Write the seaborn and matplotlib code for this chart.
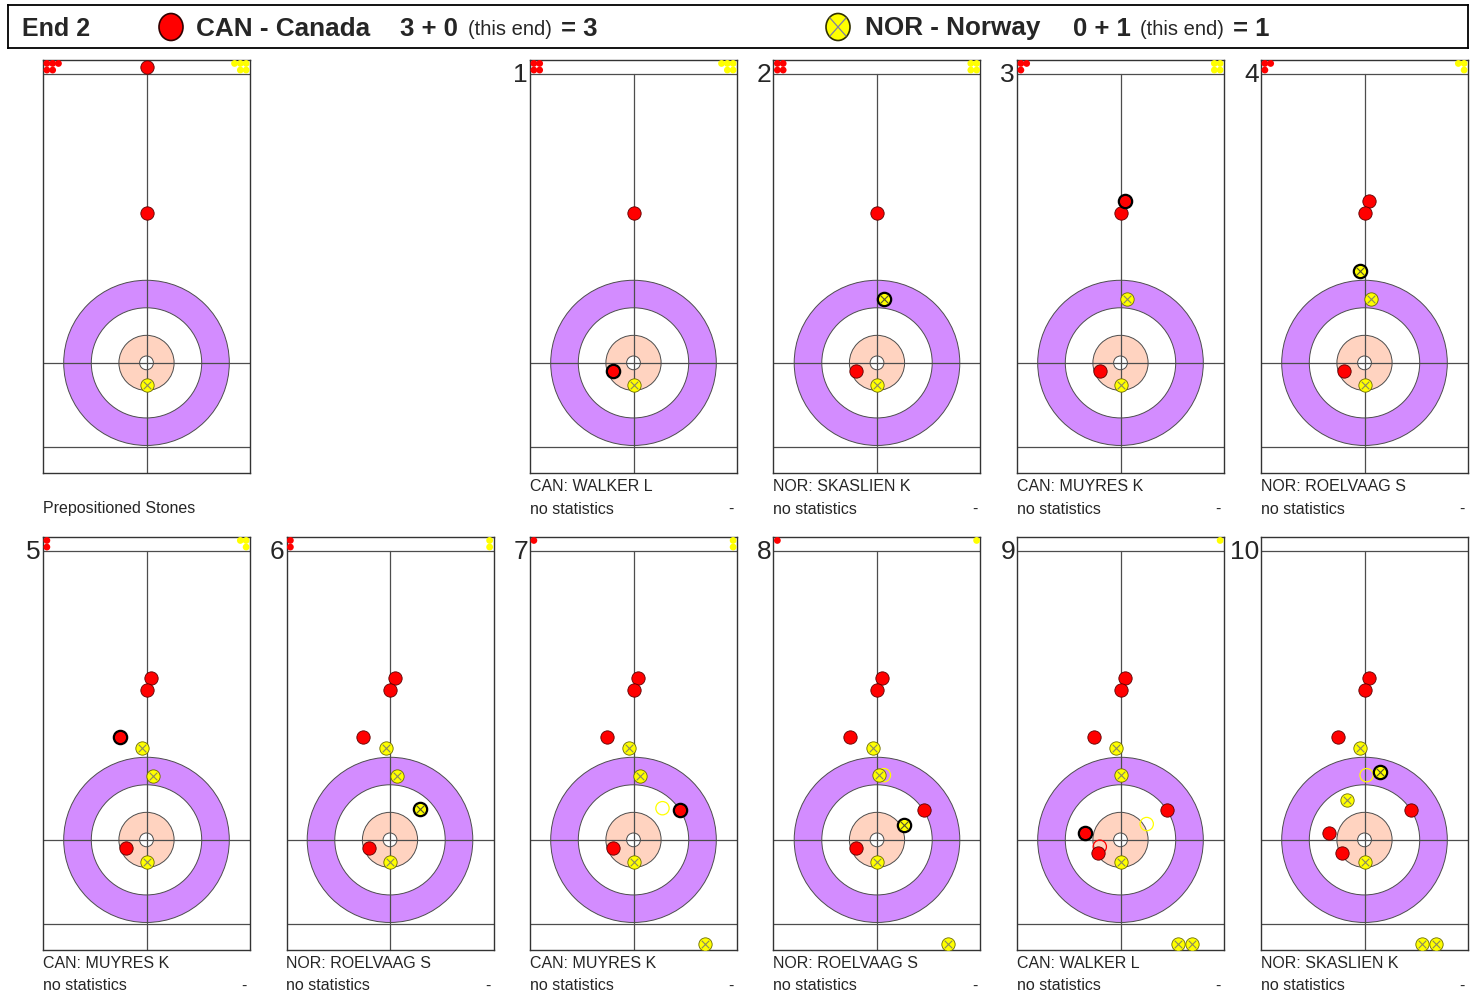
import numpy as np
import pandas as pd
import matplotlib
matplotlib.use('Agg')
import matplotlib.pyplot as plt
from matplotlib.patches import Circle, Rectangle, Ellipse
import seaborn as sns

sns.set_style('white')
plt.rcParams['font.family'] = ['Liberation Sans', 'DejaVu Sans']

W, H = 1475, 993

# ---- data (positions in feet, tee = (0, 0), hog line at y=21) ----
end_no = 2
team_names = ['CAN - Canada', 'NOR - Norway']
score_before = [3, 0]
score_end = [0, 1]

shooters = ['CAN: WALKER L', 'NOR: SKASLIEN K', 'CAN: MUYRES K', 'NOR: ROELVAAG S',
            'CAN: MUYRES K', 'NOR: ROELVAAG S', 'CAN: MUYRES K', 'NOR: ROELVAAG S',
            'CAN: WALKER L', 'NOR: SKASLIEN K']

# stones left to throw, per panel (0 = prepositioned)
can_left = [5, 4, 4, 3, 3, 2, 2, 1, 1, 0, 0]
nor_left = [5, 5, 4, 4, 3, 3, 2, 2, 1, 1, 0]

# stones in play (not counting the shot just played)
can_xy = [
    [(0, 21.5), (0, 10.85)],
    [(0, 10.85)],
    [(0, 10.85), (-1.5, -0.6)],
    [(0, 10.85), (-1.5, -0.6)],
    [(0.35, 11.75), (0, 10.85), (-1.5, -0.6)],
    [(0.35, 11.75), (0, 10.85), (-1.5, -0.6)],
    [(0.35, 11.75), (0, 10.85), (-1.95, 7.5), (-1.5, -0.6)],
    [(0.35, 11.75), (0, 10.85), (-1.95, 7.5), (-1.5, -0.6)],
    [(0.35, 11.75), (0, 10.85), (-1.95, 7.5), (3.4, 2.2), (-1.5, -0.6)],
    [(0.35, 11.75), (0, 10.85), (-1.95, 7.5), (3.4, 2.2), (-1.6, -0.95)],
    [(0.35, 11.75), (0, 10.85), (-1.95, 7.5), (3.4, 2.2), (-2.6, 0.5), (-1.6, -0.95)],
]
nor_xy = [
    [(0, -1.6)],
    [(0, -1.6)],
    [(0, -1.6)],
    [(0.5, 4.65), (0, -1.6)],
    [(0.5, 4.65), (0, -1.6)],
    [(-0.3, 6.7), (0.5, 4.65), (0, -1.6)],
    [(-0.3, 6.7), (0.5, 4.65), (0, -1.6)],
    [(-0.3, 6.7), (0.5, 4.65), (0, -1.6), (5.15, -7.55)],
    [(-0.3, 6.7), (0.15, 4.7), (0, -1.6), (5.15, -7.55)],
    [(-0.3, 6.7), (0.05, 4.7), (0, -1.6), (4.2, -7.55), (5.15, -7.55)],
    [(-0.3, 6.7), (-1.25, 2.9), (0, -1.6), (4.2, -7.55), (5.15, -7.55)],
]
# stone just delivered
shot_xy = [None, (-1.45, -0.6), (0.5, 4.65), (0.35, 11.75), (-0.3, 6.7), (-1.95, 7.5),
           (2.2, 2.25), (3.4, 2.2), (1.95, 1.1), (-2.6, 0.5), (1.1, 4.9)]
# previous positions of moved / removed stones
can_ghost = [[], [], [], [], [], [], [], [], [], [(-1.5, -0.5)], []]
nor_ghost = [[], [], [], [], [], [], [], [(2.1, 2.3)], [(0.5, 4.7)], [(1.9, 1.15)], [(0.15, 4.7)]]

# ---- long table of marks ----
rows = []
for p in range(11):
    for x, y in can_xy[p]:
        rows.append((p, 'CAN', 'stone', x, y))
    for x, y in nor_xy[p]:
        rows.append((p, 'NOR', 'stone', x, y))
    if shot_xy[p] is not None:
        rows.append((p, shooters[p - 1][:3], 'shot', *shot_xy[p]))
    for x, y in can_ghost[p]:
        rows.append((p, 'CAN', 'ghost', x, y))
    for x, y in nor_ghost[p]:
        rows.append((p, 'NOR', 'ghost', x, y))
    # stones still to play sit in the strip above the hog line
    for i in range(can_left[p]):
        rows.append((p, 'CAN', 'store', -7.22 + 0.42 * (i // 2), 21.75 - 0.48 * (i % 2)))
    for i in range(nor_left[p]):
        rows.append((p, 'NOR', 'store', 7.22 - 0.42 * (i // 2), 21.75 - 0.48 * (i % 2)))
stones = pd.DataFrame(rows, columns=['panel', 'team', 'kind', 'x', 'y'])

RED = '#ff0000'
YEL = '#ffff00'
PURPLE = '#d38cff'
PEACH = '#ffd3c0'
LINE = '#4d4d4d'
STONE_S = 92


def draw_sheet(ax, p):
    ax.set_xlim(-7.5, 7.5)
    ax.set_ylim(-8, 22)
    for r, c in [(6, PURPLE), (4, 'white'), (2, PEACH), (0.5, 'white')]:
        ax.add_patch(Circle((0, 0), r, fc=c, ec=LINE, lw=0.7, zorder=1))
    for yl in [0, -6.1, 21]:
        ax.axhline(yl, color=LINE, lw=0.9, zorder=2)
    ax.plot([0, 0], [-8, 21], color=LINE, lw=0.9, zorder=2)

    d = stones[stones['panel'] == p]
    kw = dict(x='x', y='y', ax=ax, legend=False, zorder=4)
    red = d[(d['team'] == 'CAN') & (d['kind'] == 'stone')]
    yel = d[(d['team'] == 'NOR') & (d['kind'] == 'stone')]
    shot = d[d['kind'] == 'shot']
    if len(red):
        sns.scatterplot(data=red, color=RED, s=STONE_S, edgecolor='#5a0000', linewidth=0.6, **kw)
    if len(yel):
        sns.scatterplot(data=yel, color=YEL, s=STONE_S, edgecolor='#6b6b00', linewidth=0.6, **kw)
        sns.scatterplot(data=yel, color='#8a8a60', marker='x', s=30, linewidth=0.8, **kw)
    for team, col in [('CAN', RED), ('NOR', YEL)]:
        sh = shot[shot['team'] == team]
        if len(sh):
            sns.scatterplot(data=sh, color=col, s=STONE_S, edgecolor='black', linewidth=1.6, **kw)
            if team == 'NOR':
                sns.scatterplot(data=sh, color='#555530', marker='x', s=30, linewidth=0.8, **kw)
        gh = d[(d['team'] == team) & (d['kind'] == 'ghost')]
        if len(gh):
            sns.scatterplot(data=gh, facecolor='none', s=STONE_S, edgecolor=col, linewidth=0.9,
                            x='x', y='y', ax=ax, legend=False, zorder=3)
        st = d[(d['team'] == team) & (d['kind'] == 'store')]
        if len(st):
            sns.scatterplot(data=st, color=col, s=24, edgecolor='none', linewidth=0, **kw)

    ax.set_xlabel('')
    ax.set_ylabel('')
    ax.set_xticks([])
    ax.set_yticks([])
    for s in ax.spines.values():
        s.set_color('#333333')
        s.set_linewidth(1.0)


fig = plt.figure(figsize=(W / 100, H / 100), dpi=100)

PW, PH = 207, 413
col_left = [43, 286.5, 530, 773.5, 1017, 1261]
row_top = [60, 537]
panel_pos = [(0, 0), (0, 2), (0, 3), (0, 4), (0, 5),
             (1, 0), (1, 1), (1, 2), (1, 3), (1, 4), (1, 5)]
LBL = 11.5

for p, (r, c) in enumerate(panel_pos):
    L, T = col_left[c], row_top[r]
    ax = fig.add_axes([L / W, 1 - (T + PH) / H, PW / W, PH / H])
    draw_sheet(ax, p)
    y1 = T + PH + 14
    y2 = T + PH + 36
    if p == 0:
        fig.text(L / W, 1 - y2 / H, 'Prepositioned Stones', fontsize=LBL, va='center', ha='left')
        continue
    fig.text((L - 2) / W, 1 - (T + 15) / H, str(p), fontsize=19, va='center', ha='right')
    fig.text(L / W, 1 - y1 / H, shooters[p - 1], fontsize=LBL, va='center', ha='left')
    fig.text(L / W, 1 - y2 / H, 'no statistics', fontsize=LBL, va='center', ha='left')
    fig.text((L + PW - 3) / W, 1 - y2 / H, '-', fontsize=LBL, va='center', ha='right')

# ---- header ----
hx = fig.add_axes([8 / W, 1 - 48 / H, 1460 / W, 43 / H])
hx.set_xlim(8, 1468)
hx.set_ylim(48, 5)
hx.set_xticks([])
hx.set_yticks([])
for s in hx.spines.values():
    s.set_color('black')
    s.set_linewidth(1.3)

HY = 28.5
hx.text(22, HY, f'End {end_no}', fontsize=18, fontweight='bold', va='center')
hx.add_patch(Ellipse((171, 27), 24, 27, fc=RED, ec='#300000', lw=1.2))
hx.text(196, HY, team_names[0], fontsize=18.8, fontweight='bold', va='center')
hx.text(400, HY, f'{score_before[0]} + {score_end[0]}', fontsize=18.5, fontweight='bold', va='center')
hx.text(468, HY + 1, '(this end)', fontsize=14.5, va='center')
hx.text(561, HY, f'= {score_before[0] + score_end[0]}', fontsize=18.5, fontweight='bold', va='center')

hx.add_patch(Ellipse((838, 27), 24, 27, fc=YEL, ec='#303000', lw=1.2))
hx.plot([830, 846], [18, 36], color='#8080a0', lw=0.9)
hx.plot([830, 846], [36, 18], color='#8080a0', lw=0.9)
hx.text(865, HY, team_names[1], fontsize=18.8, fontweight='bold', va='center')
hx.text(1073, HY, f'{score_before[1]} + {score_end[1]}', fontsize=18.5, fontweight='bold', va='center')
hx.text(1140, HY + 1, '(this end)', fontsize=14.5, va='center')
hx.text(1233, HY, f'= {score_before[1] + score_end[1]}', fontsize=18.5, fontweight='bold', va='center')

fig.savefig('out.png', dpi=100)
